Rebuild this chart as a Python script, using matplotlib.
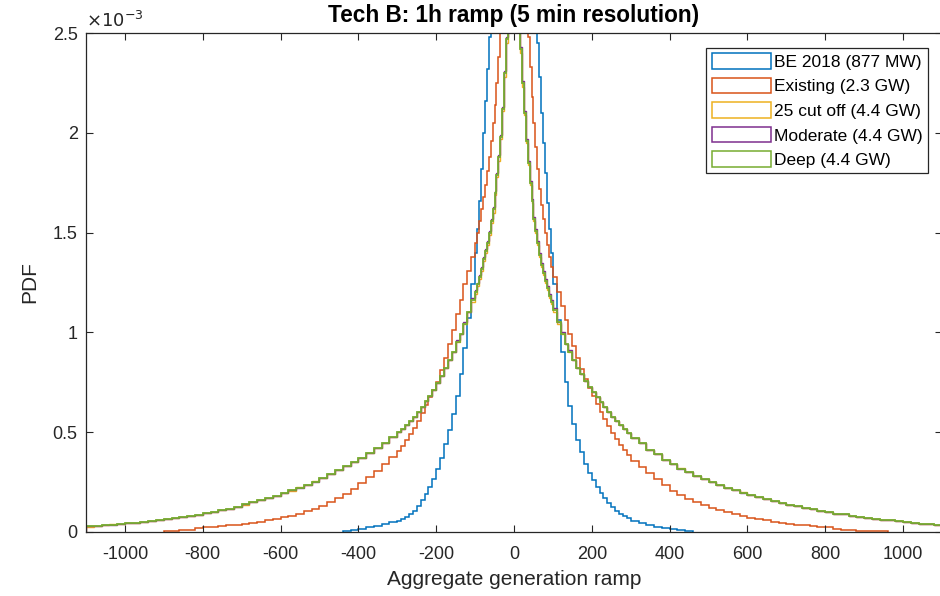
import numpy as np
import matplotlib
matplotlib.use("Agg")
import matplotlib.pyplot as plt
from matplotlib.patches import Patch

# histogram bin edges on one side of zero: 5 wide near the peak, then 10, then 20
half_edges = np.concatenate([np.arange(0, 100, 5), np.arange(100, 300, 10),
                             np.arange(300, 1101, 20)])
edges = np.concatenate([-half_edges[::-1], half_edges[1:]])
nbins = len(half_edges) - 1

# PDF values (x 1e-3), listed outward from zero,
# "_neg" for the negative side, "_pos" for the positive side
be2018_neg = [4.4, 4.35, 4.25, 4.1, 3.95, 3.8, 3.62, 3.42, 3.22, 3.02,
              2.83, 2.65, 2.48, 2.32, 2.16, 2.0, 1.82, 1.66, 1.52, 1.4,
              1.24, 1.07, 0.92, 0.79, 0.68, 0.59, 0.51, 0.44, 0.37, 0.315,
              0.265, 0.225, 0.19, 0.158, 0.13, 0.107, 0.09, 0.076, 0.065, 0.056,
              0.048, 0.038, 0.03, 0.023, 0.017, 0.011, 0.005]
be2018_pos = [4.4, 4.35, 4.25, 4.1, 3.95, 3.8, 3.6, 3.4, 3.2, 3.0,
              2.8, 2.62, 2.45, 2.28, 2.1, 1.95, 1.8, 1.65, 1.52, 1.4,
              1.24, 1.06, 0.9, 0.75, 0.63, 0.54, 0.46, 0.4, 0.34, 0.295,
              0.26, 0.225, 0.195, 0.168, 0.145, 0.125, 0.107, 0.092, 0.079, 0.068,
              0.056, 0.045, 0.035, 0.027, 0.02, 0.014, 0.009, 0.005]

existing_neg = [3.6, 3.45, 3.25, 3.05, 2.88, 2.7, 2.52, 2.38, 2.25, 2.14,
                2.05, 1.96, 1.88, 1.81, 1.74, 1.68, 1.62, 1.56, 1.5, 1.45,
                1.38, 1.31, 1.24, 1.16, 1.09, 1.01, 0.94, 0.87, 0.81, 0.75,
                0.71, 0.675, 0.635, 0.595, 0.555, 0.52, 0.49, 0.46, 0.43, 0.405,
                0.375, 0.34, 0.305, 0.275, 0.245, 0.215, 0.19, 0.168, 0.148, 0.131,
                0.116, 0.103, 0.092, 0.082, 0.073, 0.065, 0.058, 0.052, 0.046, 0.041,
                0.037, 0.033, 0.029, 0.026, 0.023, 0.018, 0.012, 0.008, 0.006, 0.004]
existing_pos = [3.6, 3.45, 3.3, 3.1, 2.95, 2.8, 2.63, 2.48, 2.33, 2.18,
                2.05, 1.93, 1.82, 1.72, 1.64, 1.57, 1.5, 1.44, 1.38, 1.33,
                1.28, 1.2, 1.13, 1.06, 0.99, 0.93, 0.87, 0.815, 0.765, 0.72,
                0.68, 0.64, 0.6, 0.565, 0.53, 0.495, 0.465, 0.435, 0.41, 0.385,
                0.355, 0.325, 0.295, 0.265, 0.235, 0.205, 0.185, 0.167, 0.15, 0.135,
                0.122, 0.11, 0.099, 0.089, 0.08, 0.072, 0.065, 0.058, 0.052, 0.046,
                0.041, 0.037, 0.033, 0.029, 0.026, 0.023, 0.016, 0.01, 0.008, 0.007,
                0.006, 0.005, 0.004]

cutoff25_neg = [3.3, 2.95, 2.64, 2.45, 2.28, 2.11, 1.97, 1.86, 1.78, 1.69,
                1.6, 1.55, 1.49, 1.44, 1.4, 1.36, 1.31, 1.27, 1.23, 1.19,
                1.15, 1.1, 1.04, 0.99, 0.95, 0.9, 0.86, 0.82, 0.78, 0.745,
                0.71, 0.68, 0.655, 0.625, 0.6, 0.575, 0.555, 0.535, 0.515, 0.5,
                0.476, 0.444, 0.421, 0.394, 0.371, 0.349, 0.331, 0.309, 0.291, 0.27,
                0.254, 0.236, 0.223, 0.207, 0.196, 0.181, 0.171, 0.158, 0.149, 0.137,
                0.126, 0.115, 0.109, 0.099, 0.094, 0.085, 0.081, 0.073, 0.07, 0.063,
                0.06, 0.054, 0.052, 0.046, 0.045, 0.04, 0.038, 0.033, 0.032, 0.027]
cutoff25_pos = [3.3, 2.95, 2.64, 2.4, 2.23, 2.09, 1.95, 1.84, 1.74, 1.65,
                1.56, 1.5, 1.44, 1.38, 1.33, 1.29, 1.25, 1.21, 1.17, 1.14,
                1.1, 1.04, 0.99, 0.94, 0.9, 0.86, 0.82, 0.79, 0.755, 0.725,
                0.70, 0.675, 0.65, 0.625, 0.6, 0.575, 0.555, 0.535, 0.515, 0.495,
                0.471, 0.444, 0.411, 0.389, 0.361, 0.341, 0.319, 0.301, 0.28, 0.265,
                0.25, 0.236, 0.222, 0.21, 0.198, 0.186, 0.175, 0.165, 0.155, 0.146,
                0.135, 0.129, 0.12, 0.113, 0.106, 0.1, 0.092, 0.088, 0.081, 0.077,
                0.07, 0.067, 0.061, 0.058, 0.054, 0.05, 0.046, 0.042, 0.04, 0.036]

moderate_neg = [3.3, 2.95, 2.66, 2.48, 2.31, 2.13, 1.99, 1.89, 1.8, 1.71,
                1.63, 1.57, 1.51, 1.46, 1.42, 1.38, 1.33, 1.29, 1.25, 1.21,
                1.17, 1.1, 1.05, 0.99, 0.96, 0.9, 0.86, 0.82, 0.78, 0.745,
                0.71, 0.68, 0.655, 0.625, 0.6, 0.575, 0.555, 0.535, 0.515, 0.5,
                0.475, 0.445, 0.42, 0.395, 0.37, 0.35, 0.33, 0.31, 0.29, 0.27,
                0.253, 0.237, 0.222, 0.208, 0.195, 0.182, 0.17, 0.159, 0.148, 0.138,
                0.125, 0.116, 0.108, 0.1, 0.093, 0.086, 0.08, 0.074, 0.069, 0.064,
                0.059, 0.055, 0.051, 0.047, 0.044, 0.041, 0.037, 0.034, 0.031, 0.028]
moderate_pos = [3.3, 2.95, 2.66, 2.43, 2.26, 2.11, 1.97, 1.86, 1.76, 1.67,
                1.58, 1.52, 1.46, 1.4, 1.35, 1.31, 1.27, 1.23, 1.19, 1.16,
                1.12, 1.05, 1.0, 0.94, 0.91, 0.86, 0.82, 0.79, 0.755, 0.725,
                0.70, 0.675, 0.65, 0.625, 0.6, 0.575, 0.555, 0.535, 0.515, 0.495,
                0.47, 0.445, 0.41, 0.39, 0.36, 0.342, 0.318, 0.302, 0.279, 0.266,
                0.249, 0.237, 0.221, 0.211, 0.197, 0.187, 0.174, 0.166, 0.154, 0.146,
                0.135, 0.129, 0.119, 0.114, 0.105, 0.1, 0.092, 0.088, 0.08, 0.077,
                0.07, 0.067, 0.061, 0.059, 0.053, 0.05, 0.047, 0.042, 0.04, 0.036]

deep_neg = [3.3, 2.95, 2.65, 2.47, 2.3, 2.12, 1.98, 1.88, 1.79, 1.7,
            1.62, 1.56, 1.5, 1.45, 1.41, 1.37, 1.32, 1.28, 1.24, 1.2,
            1.16, 1.1, 1.04, 0.99, 0.95, 0.9, 0.86, 0.82, 0.78, 0.745,
            0.71, 0.68, 0.655, 0.625, 0.6, 0.575, 0.555, 0.535, 0.515, 0.5,
            0.475, 0.445, 0.42, 0.395, 0.37, 0.35, 0.33, 0.31, 0.29, 0.27,
            0.253, 0.237, 0.222, 0.208, 0.195, 0.182, 0.17, 0.159, 0.148, 0.138,
            0.125, 0.116, 0.108, 0.1, 0.093, 0.086, 0.08, 0.074, 0.069, 0.064,
            0.059, 0.055, 0.051, 0.047, 0.044, 0.041, 0.037, 0.034, 0.031, 0.028]
deep_pos = [3.3, 2.95, 2.65, 2.42, 2.25, 2.1, 1.96, 1.85, 1.75, 1.66,
            1.57, 1.51, 1.45, 1.39, 1.34, 1.3, 1.26, 1.22, 1.18, 1.15,
            1.11, 1.05, 0.99, 0.94, 0.9, 0.86, 0.82, 0.79, 0.755, 0.725,
            0.70, 0.675, 0.65, 0.625, 0.6, 0.575, 0.555, 0.535, 0.515, 0.495,
            0.47, 0.445, 0.41, 0.39, 0.36, 0.342, 0.318, 0.302, 0.279, 0.266,
            0.249, 0.237, 0.221, 0.211, 0.197, 0.187, 0.174, 0.166, 0.154, 0.146,
            0.135, 0.129, 0.119, 0.114, 0.105, 0.1, 0.092, 0.088, 0.08, 0.077,
            0.07, 0.067, 0.061, 0.059, 0.053, 0.05, 0.047, 0.042, 0.04, 0.036]

labels = ["BE 2018 (877 MW)", "Existing (2.3 GW)", "25 cut off (4.4 GW)",
          "Moderate (4.4 GW)", "Deep (4.4 GW)"]
colors = ["#0072BD", "#D95319", "#EDB120", "#7E2F8E", "#77AC30"]
xticks = [-1000, -800, -600, -400, -200, 0, 200, 400, 600, 800, 1000]
yticks = [0, 0.5, 1, 1.5, 2, 2.5]
ytick_labels = ["0", "0.5", "1", "1.5", "2", "2.5"]

series = [(be2018_neg, be2018_pos), (existing_neg, existing_pos),
          (cutoff25_neg, cutoff25_pos), (moderate_neg, moderate_pos),
          (deep_neg, deep_pos)]
widths = [1.1, 1.1, 1.0, 1.0, 1.3]

plt.rcParams["font.family"] = ["Liberation Sans", "DejaVu Sans"]
plt.rcParams["axes.unicode_minus"] = False
axcol = "#262626"

fig = plt.figure(figsize=(9.4, 5.96), dpi=100)
ax = fig.add_axes([86 / 940, 64 / 596, 856 / 940, 499 / 596])


def full_row(neg, pos):
    neg = np.pad(np.asarray(neg, float), (0, nbins - len(neg)))
    pos = np.pad(np.asarray(pos, float), (0, nbins - len(pos)))
    return np.concatenate([neg[::-1], pos])


for (neg, pos), col, lw in zip(series, colors, widths):
    vals = full_row(neg, pos)
    nz = np.nonzero(vals)[0]
    i0, i1 = nz[0], nz[-1] + 1
    ax.stairs(vals[i0:i1], edges[i0:i1 + 1], color=col, linewidth=lw)

ax.set_xlim(-1100, 1100)
ax.set_ylim(0, 2.5)
ax.set_xticks(xticks)
ax.set_yticks(yticks)
ax.set_yticklabels(ytick_labels)
ax.tick_params(direction="in", length=5, width=0.8, top=True, right=True,
               labelsize=13, colors=axcol)
ax.tick_params(axis="x", pad=10)
ax.tick_params(axis="y", pad=6)
for s in ax.spines.values():
    s.set_color(axcol)
    s.set_linewidth(0.9)

ax.set_xlabel("Aggregate generation ramp", fontsize=15, color=axcol, labelpad=5)
ax.set_ylabel("PDF", fontsize=15, color=axcol, labelpad=10)
ax.set_title("Tech B: 1h ramp (5 min resolution)", fontsize=16.3, fontweight="bold",
             color="black", pad=8)
ax.text(0.0, 1.004, r"$\times10^{-3}$", transform=ax.transAxes, fontsize=13,
        color=axcol, ha="left", va="bottom")

handles = [Patch(facecolor="white", edgecolor=c, linewidth=1.1) for c in colors]
leg = ax.legend(handles, labels, loc="upper right",
                bbox_to_anchor=(1 - 14 / 856, 1 - 15 / 499), borderaxespad=0,
                fontsize=12.5, fancybox=False, framealpha=1, edgecolor=axcol,
                handlelength=3.4, handleheight=1.0, handletextpad=0.2,
                labelspacing=0.45, borderpad=0.3)
leg.get_frame().set_linewidth(0.9)

fig.savefig("out.png", dpi=100)
